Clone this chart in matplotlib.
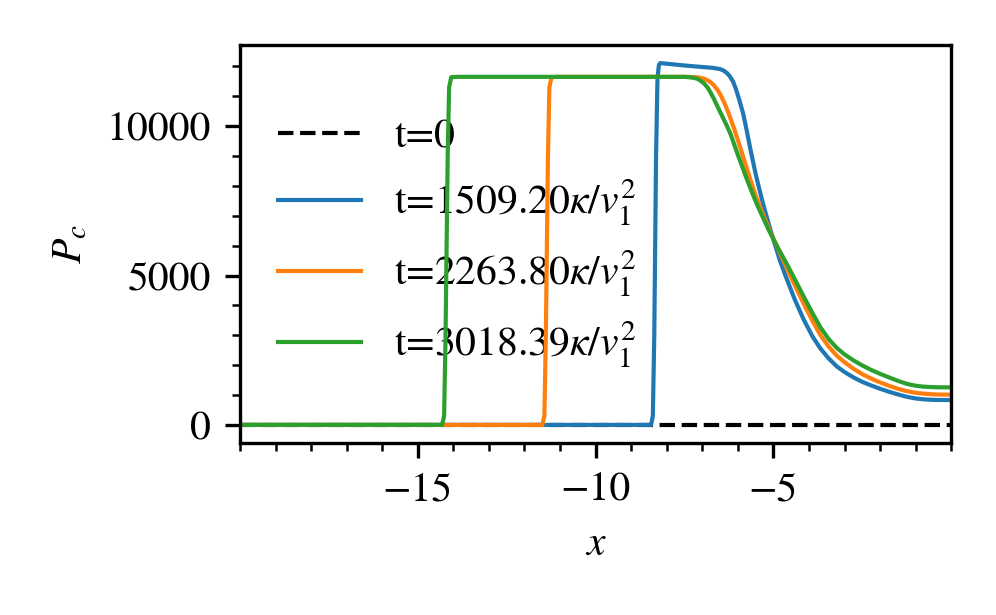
import numpy as np
import matplotlib
matplotlib.use("Agg")
import matplotlib.pyplot as plt
from matplotlib.ticker import MultipleLocator

plt.rcParams["font.family"] = "STIXGeneral"
plt.rcParams["mathtext.fontset"] = "stix"
plt.rcParams["font.size"] = 10

# Values
x0 = [-20.0, 0.0]
p0 = [0.0, 0.0]

x_blue = [-20.0, -8.44, -8.39, -8.35, -8.30, -8.26, -8.22, -8.18, -8.0, -7.5, -7.0,
          -6.7, -6.5, -6.4, -6.3, -6.22, -6.13, -6.05, -5.96, -5.85, -5.75, -5.65,
          -5.5, -5.32, -5.15, -5.0, -4.81, -4.62, -4.4, -4.15, -3.9, -3.68, -3.45,
          -3.22, -3.0, -2.75, -2.5, -2.25, -2.0, -1.75, -1.5, -1.25, -1.0, -0.78,
          -0.5, -0.31, 0.0]
p_blue = [0, 0, 300, 3000, 9000, 11600, 12050, 12110, 12090, 12030, 11980,
          11950, 11910, 11860, 11770, 11660, 11480, 11230, 10880, 10420, 9850, 9250,
          8400, 7530, 6800, 6200, 5480, 4870, 4200, 3530, 2960, 2560, 2230,
          1960, 1770, 1590, 1440, 1320, 1210, 1110, 1020, 940, 885, 855,
          838, 834, 833]

x_orange = [-20.0, -11.50, -11.44, -11.40, -11.34, -11.30, -11.24, -11.1, -7.4, -7.1,
            -6.95, -6.8, -6.69, -6.55, -6.45, -6.35, -6.25, -6.1, -5.95, -5.8, -5.65,
            -5.5, -5.3, -5.1, -4.9, -4.7, -4.5, -4.3, -4.1, -3.9, -3.68, -3.45,
            -3.22, -3.0, -2.75, -2.5, -2.25, -2.0, -1.75, -1.5, -1.25, -1.0, -0.78,
            -0.5, -0.31, 0.0]
p_orange = [0, 0, 300, 3000, 9000, 11300, 11640, 11650, 11650, 11630,
            11590, 11500, 11390, 11180, 10960, 10700, 10400, 9900, 9350, 8780, 8220,
            7680, 7070, 6500, 5970, 5450, 4930, 4430, 3940, 3480, 3010, 2630,
            2320, 2100, 1880, 1700, 1550, 1420, 1310, 1210, 1130, 1075, 1045,
            1022, 1015, 1012]

x_green = [-20.0, -14.32, -14.26, -14.22, -14.16, -14.12, -14.06, -13.9, -7.5, -7.3,
           -7.15, -7.06, -6.95, -6.85, -6.78, -6.68, -6.59, -6.5, -6.4, -6.3, -6.2,
           -6.1, -6.0, -5.85, -5.74, -5.6, -5.45, -5.3, -5.15, -5.0, -4.87, -4.62,
           -4.4, -4.15, -3.9, -3.68, -3.45, -3.22, -3.0, -2.75, -2.5, -2.25, -2.0,
           -1.75, -1.5, -1.25, -1.0, -0.78, -0.5, -0.31, 0.0]
p_green = [0, 0, 300, 3000, 9000, 11300, 11640, 11650, 11650, 11630,
           11590, 11530, 11430, 11290, 11150, 10930, 10700, 10480, 10240, 9990, 9720,
           9380, 9040, 8560, 8200, 7780, 7350, 6960, 6570, 6220, 5920, 5380,
           4880, 4300, 3740, 3270, 2880, 2580, 2360, 2160, 1990, 1840, 1710,
           1590, 1475, 1375, 1310, 1280, 1263, 1258, 1257]

labels = ["t=0",
          r"t=1509.20$\kappa/v_1^2$",
          r"t=2263.80$\kappa/v_1^2$",
          r"t=3018.39$\kappa/v_1^2$"]

fig = plt.figure(figsize=(3.32, 2.05), dpi=300)
ax = fig.add_axes([0.241, 0.2797, 0.714, 0.6471])

ax.plot(x0, p0, "k--", lw=1, label=labels[0])
ax.plot(x_blue, p_blue, color="tab:blue", lw=1, label=labels[1])
ax.plot(x_orange, p_orange, color="tab:orange", lw=1, label=labels[2])
ax.plot(x_green, p_green, color="tab:green", lw=1, label=labels[3])

ax.set_xlim(-20, 0)
ax.set_xticks([-15, -10, -5])
ax.xaxis.set_minor_locator(MultipleLocator(1))
ax.set_yticks([0, 5000, 10000])
ax.yaxis.set_minor_locator(MultipleLocator(1000))

ax.set_xlabel("$x$")
ax.set_ylabel("$P_c$")

leg = ax.legend(loc="center left", frameon=False)
leg.set_zorder(1)

fig.savefig("out.png", dpi=300)
